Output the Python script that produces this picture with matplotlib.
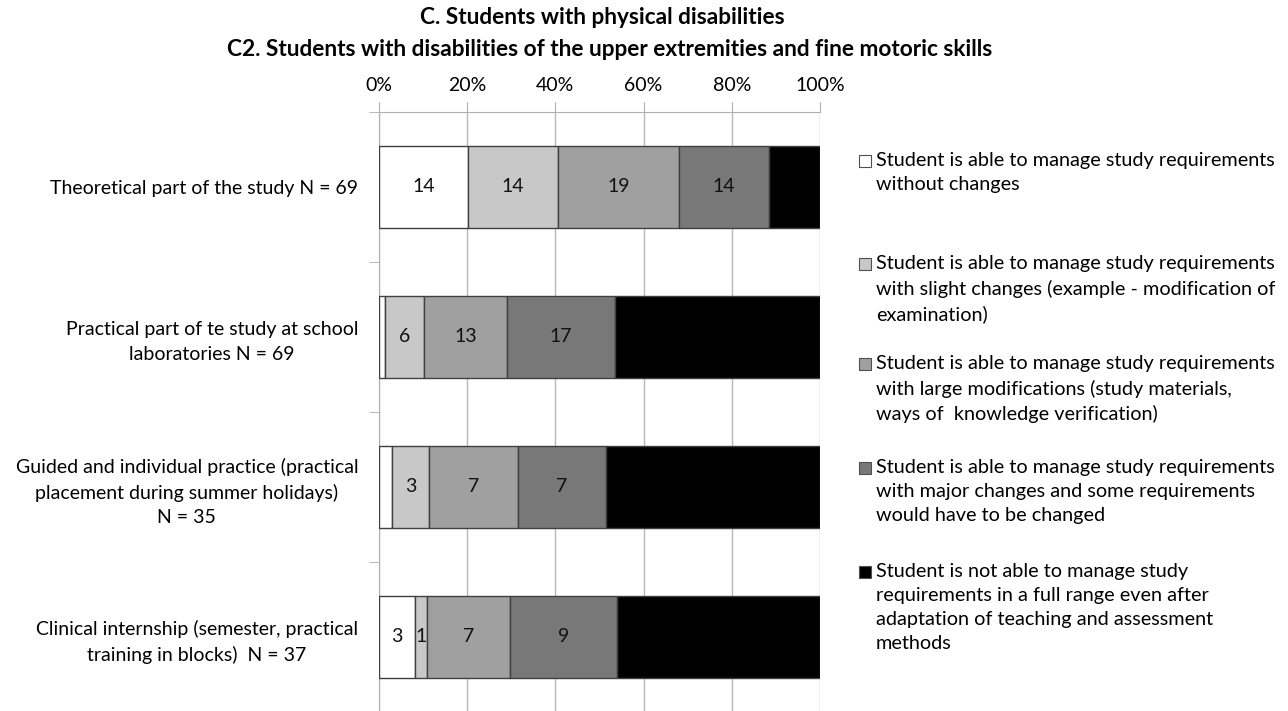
import numpy as np
import matplotlib
matplotlib.use("Agg")
import matplotlib.pyplot as plt
from matplotlib.patches import Rectangle

plt.rcParams['font.family'] = ['Lato', 'DejaVu Sans']

# data (counts of students per answer)
categories = [
    "Theoretical part of the study N = 69",
    "Practical part of te study at school\nlaboratories N = 69",
    "Guided and individual practice (practical\nplacement during summer holidays)\nN = 35",
    "Clinical internship (semester, practical\ntraining in blocks)  N = 37",
]
without_changes = [14, 1, 1, 3]
slight_changes = [14, 6, 3, 1]
large_mods = [19, 13, 7, 7]
major_changes = [14, 17, 7, 9]
not_able = [8, 32, 17, 17]

series_names = [
    "Student is able to manage study requirements\nwithout changes",
    "Student is able to manage study requirements\nwith slight changes (example - modification of\nexamination)",
    "Student is able to manage study requirements\nwith large modifications (study materials,\nways of  knowledge verification)",
    "Student is able to manage study requirements\nwith major changes and some requirements\nwould have to be changed",
    "Student is not able to manage study\nrequirements in a full range even after\nadaptation of teaching and assessment\nmethods",
]
colors = ['#ffffff', '#c8c8c8', '#a0a0a0', '#787878', '#000000']

counts = np.array([without_changes, slight_changes, large_mods, major_changes, not_able], dtype=float)
totals = counts.sum(axis=0)
shares = counts / totals * 100

fig = plt.figure(figsize=(12.88, 7.11), dpi=100)
ax = fig.add_axes([379/1288, 1 - 712/711, 441/1288, 600/711])

y = np.arange(len(categories))
left = np.zeros(len(categories))
for i in range(len(series_names)):
    bars = ax.barh(y, shares[i], left=left, height=0.553, color=colors[i],
                   edgecolor='#404040', linewidth=1, zorder=3)
    if i < 4:
        # small first segments are left unlabeled, like in the original
        labels = [('' if (i == 0 and c < 2) else str(int(c))) for c in counts[i]]
        ax.bar_label(bars, labels=labels, label_type='center', fontsize=14, color='#111111')
    left += shares[i]

ax.set_xlim(0, 100)
ax.set_ylim(3.5, -0.5)
ax.set_xticks(np.arange(0, 101, 20))
ax.set_xticklabels([f"{v}%" for v in range(0, 101, 20)])
ax.xaxis.tick_top()
ax.tick_params(axis='x', which='both', length=7, color='#b0b0b0', labelsize=14, pad=6)
ax.grid(axis='x', color='#b8b8b8', linewidth=1, zorder=0)

ax.set_yticks(y)
ax.set_yticklabels(categories, fontsize=14, multialignment='center')
for lbl in ax.get_yticklabels():
    lbl.set_linespacing(1.5)
ax.set_yticks(np.arange(-0.5, 4, 1), minor=True)
ax.tick_params(axis='y', which='major', length=0, pad=15)
ax.tick_params(axis='y', which='minor', length=7, color='#b0b0b0')

for s in ['right', 'bottom']:
    ax.spines[s].set_visible(False)
for s in ['left', 'top']:
    ax.spines[s].set_color('#b0b0b0')

fig.text(0.468, 1 - 18/711, "C. Students with physical disabilities", ha='center', va='center',
         fontsize=16.3, fontweight='bold')
fig.text(0.473, 1 - 50/711, "C2. Students with disabilities of the upper extremities and fine motoric skills",
         ha='center', va='center', fontsize=16.3, fontweight='bold')

# legend drawn by hand so the entries keep the original uneven spacing
entry_y = [161, 264, 364, 468, 572]
for name, col, yy in zip(series_names, colors, entry_y):
    fig.patches.append(Rectangle((859/1288, 1 - (yy + 6)/711), 12/1288, 12/711,
                                 transform=fig.transFigure, facecolor=col,
                                 edgecolor='#505050', linewidth=0.8))
    fig.text(876/1288, 1 - (yy - 9)/711, name, ha='left', va='top', fontsize=14.3,
             linespacing=1.5)

plt.savefig("out.png", dpi=100)
